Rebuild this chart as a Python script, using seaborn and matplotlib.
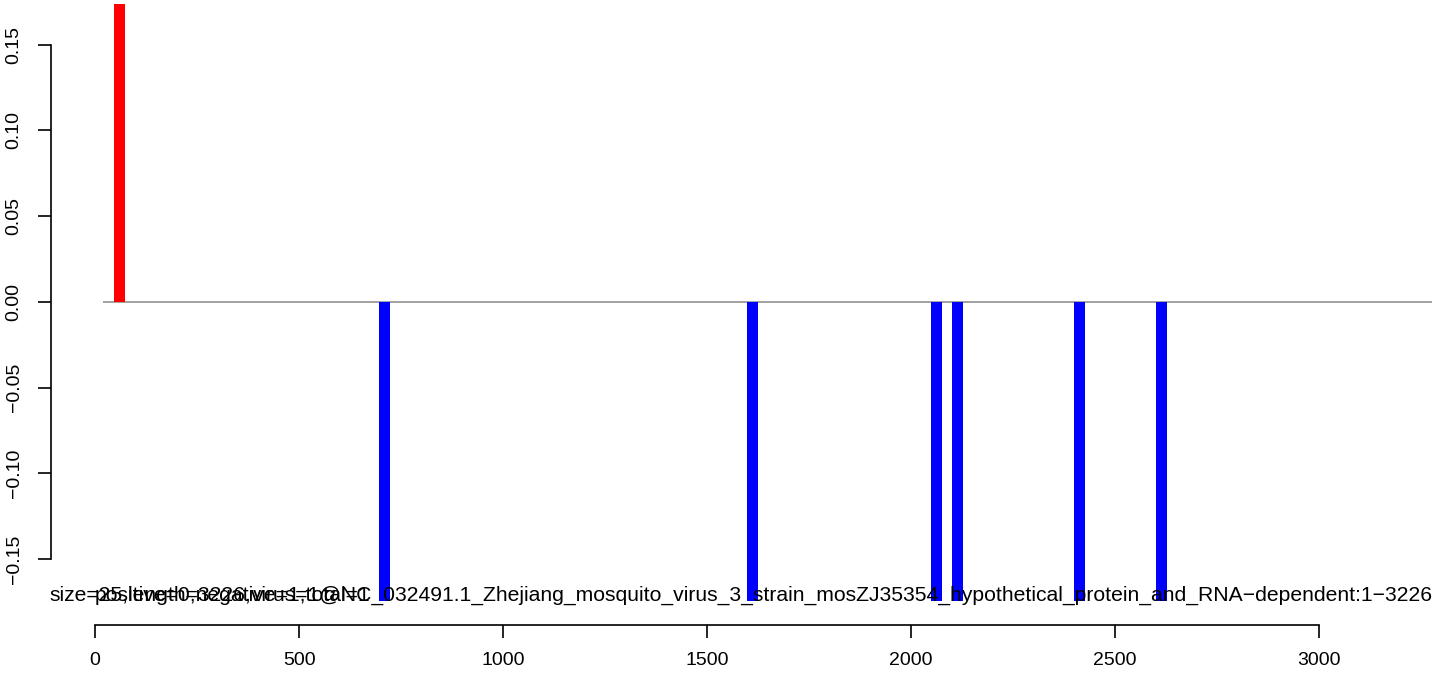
import numpy as np
import pandas as pd
import matplotlib
matplotlib.use("Agg")
import matplotlib.pyplot as plt
import seaborn as sns

# window start positions (nt) and signed values
positions = [60, 709, 1611, 2063, 2114, 2413, 2614]
values = [0.18, -0.18, -0.18, -0.18, -0.18, -0.18, -0.18]
strand = ['pos', 'neg', 'neg', 'neg', 'neg', 'neg', 'neg']
bar_width_nt = 26

y_ticks = [-0.15, -0.10, -0.05, 0.00, 0.05, 0.10, 0.15]
x_ticks = [0, 500, 1000, 1500, 2000, 2500, 3000]
x_range = (-108, 3277)
y_range = (-0.1745, 0.1738)
baseline_start = 20

title_main = "size=25,length=3226,virus=1@NC_032491.1_Zhejiang_mosquito_virus_3_strain_mosZJ35354_hypothetical_protein_and_RNA\u2212dependent:1\u22123226"
title_counts = "positive=0,negative=1,total=1"

df = pd.DataFrame({'pos': positions, 'val': values, 'strand': strand})

sns.set_style("white")
plt.rcParams['font.family'] = ['Liberation Sans', 'DejaVu Sans']
plt.rcParams['text.color'] = 'black'
plt.rcParams['xtick.color'] = 'black'
plt.rcParams['ytick.color'] = 'black'

W, H = 1444, 676
fig = plt.figure(figsize=(W / 100, H / 100), dpi=100)
ax = fig.add_axes([51 / W, 1 - 601 / H, (1432 - 51) / W, (601 - 4) / H])

min_gap = np.diff(sorted(positions)).min()
sns.barplot(data=df, x='pos', y='val', hue='strand', native_scale=True,
            palette={'pos': '#FF0000', 'neg': '#0000FF'}, dodge=False,
            width=bar_width_nt / min_gap, saturation=1, legend=False,
            edgecolor='none', linewidth=0, ax=ax, errorbar=None)

ax.hlines(0, baseline_start, x_range[1], color='#9a9a9a', lw=1.3, zorder=0)

ax.set_xlim(*x_range)
ax.set_ylim(*y_range)
ax.set_xlabel('')
ax.set_ylabel('')

for s in ['top', 'right']:
    ax.spines[s].set_visible(False)
ax.spines['left'].set_bounds(y_ticks[0], y_ticks[-1])
ax.spines['bottom'].set_bounds(x_ticks[0], x_ticks[-1])
ax.spines['bottom'].set_position(('outward', 17.3))
for s in ['left', 'bottom']:
    ax.spines[s].set_color('black')
    ax.spines[s].set_linewidth(1.2)

ax.set_yticks(y_ticks)
ax.set_yticklabels([f"{t:.2f}".replace('-', '\u2212') for t in y_ticks],
                   rotation=90, va='center', fontsize=14, color='black')
ax.set_xticks(x_ticks)
ax.set_xticklabels([str(t) for t in x_ticks], fontsize=14, color='black')
ax.tick_params(axis='both', direction='out', length=9.4, width=1.2,
               color='black', left=True, bottom=True)
ax.tick_params(axis='y', pad=11)
ax.tick_params(axis='x', pad=10)

fig.text(49 / W, 1 - 601 / H, title_main, fontsize=15.2, ha='left',
         va='baseline', color='black')
fig.text(95 / W, 1 - 601 / H, title_counts, fontsize=15.2, ha='left',
         va='baseline', color='black')

fig.savefig('out.png', dpi=100)
